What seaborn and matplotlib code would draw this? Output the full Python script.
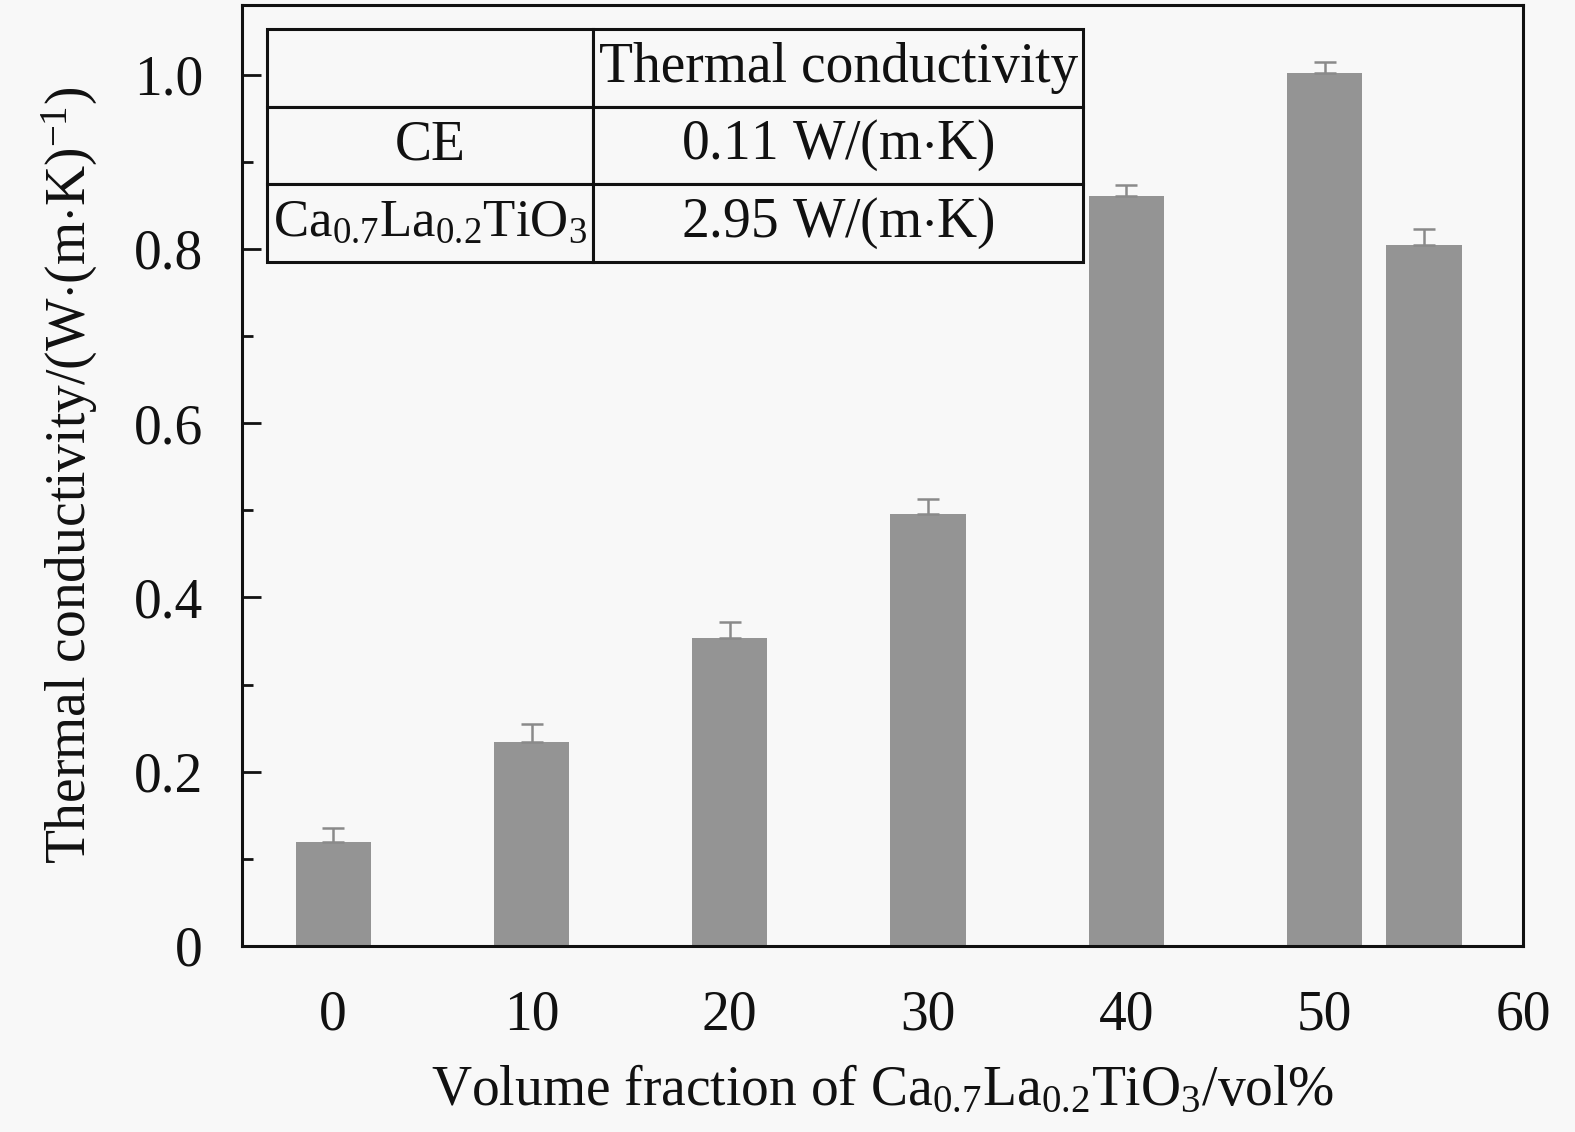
import matplotlib
matplotlib.use("Agg")
import matplotlib.pyplot as plt
import seaborn as sns
import numpy as np
import pandas as pd
from matplotlib.ticker import MultipleLocator, FixedLocator

# ---- data ----
volume_fraction = [0, 10, 20, 30, 40, 50, 55]
conductivity = [0.119, 0.234, 0.354, 0.496, 0.861, 1.002, 0.805]
error = [0.016, 0.021, 0.018, 0.017, 0.012, 0.013, 0.018]
x_ticks = [0, 10, 20, 30, 40, 50, 60]
y_ticks = [0, 0.2, 0.4, 0.6, 0.8, 1.0]
y_tick_labels = ["0", "0.2", "0.4", "0.6", "0.8", "1.0"]
table_rows = [
    ["", "Thermal conductivity"],
    ["CE", "0.11 W/(m$\\cdot$K)"],
    ["Ca$_{0.7}$La$_{0.2}$TiO$_3$", "2.95 W/(m$\\cdot$K)"],
]

bg = "#f8f8f8"
bar_color = "#949494"
bar_width = 3.8

sns.set_theme(style="ticks")
plt.rcParams["font.family"] = ["Liberation Serif", "DejaVu Serif"]
plt.rcParams["mathtext.fontset"] = "custom"
plt.rcParams["mathtext.rm"] = "Liberation Serif"
plt.rcParams["mathtext.it"] = "Liberation Serif:italic"
plt.rcParams["mathtext.bf"] = "Liberation Serif:bold"

fig = plt.figure(figsize=(15.75, 11.32), dpi=100, facecolor=bg)
ax = fig.add_axes([242 / 1575, 1 - 946 / 1132, (1523 - 242) / 1575, (946 - 5) / 1132])
ax.set_facecolor(bg)

df = pd.DataFrame({"x": volume_fraction, "y": conductivity})
sns.barplot(data=df, x="x", y="y", native_scale=True, color=bar_color,
            saturation=1, errorbar=None, ax=ax, linewidth=0)
for p, xv in zip(ax.patches, volume_fraction):
    p.set_width(bar_width)
    p.set_x(xv - bar_width / 2)

ax.errorbar(volume_fraction, conductivity, yerr=[np.zeros(len(error)), error],
            fmt="none", ecolor="#8a8a8a", elinewidth=1.8, capsize=8, capthick=1.8, zorder=3)

ax.set_xlim(-4.6, 60)
ax.set_ylim(0, 1.08)
ax.xaxis.set_major_locator(FixedLocator(x_ticks))
ax.set_xticks(x_ticks)
ax.set_xticklabels([str(v) for v in x_ticks])
ax.set_yticks(y_ticks)
ax.set_yticklabels(y_tick_labels)
ax.yaxis.set_minor_locator(MultipleLocator(0.1))

ax.tick_params(axis="x", length=0, pad=31, labelsize=40, colors="#111111")
ax.tick_params(axis="y", which="major", direction="in", length=14, width=2, pad=28,
               labelsize=40, colors="#111111")
ax.tick_params(axis="y", which="minor", direction="in", length=8, width=2, colors="#111111")
for s in ax.spines.values():
    s.set_linewidth(2.2)
    s.set_color("#111111")
    s.set_visible(True)

ax.set_xlabel("Volume fraction of Ca$_{0.7}$La$_{0.2}$TiO$_3$/vol%", fontsize=40,
              labelpad=17, color="#111111")
ax.set_ylabel("Thermal conductivity/(W$\\cdot$(m$\\cdot$K)$^{-1}$)", fontsize=40,
              labelpad=24, color="#111111")

tbl = ax.table(cellText=table_rows, cellLoc="center", colWidths=[0.4, 0.6],
               bbox=[0.0195, 0.7269, 0.637, 0.2476])
tbl.auto_set_font_size(False)
tbl.set_fontsize(40)
for (r, c), cell in tbl.get_celld().items():
    cell.set_facecolor(bg)
    cell.set_edgecolor("#111111")
    cell.set_linewidth(2.2)
    cell.get_text().set_color("#111111")
tbl[2, 0].get_text().set_fontsize(38)

fig.savefig("out.png", dpi=100, facecolor=bg)
